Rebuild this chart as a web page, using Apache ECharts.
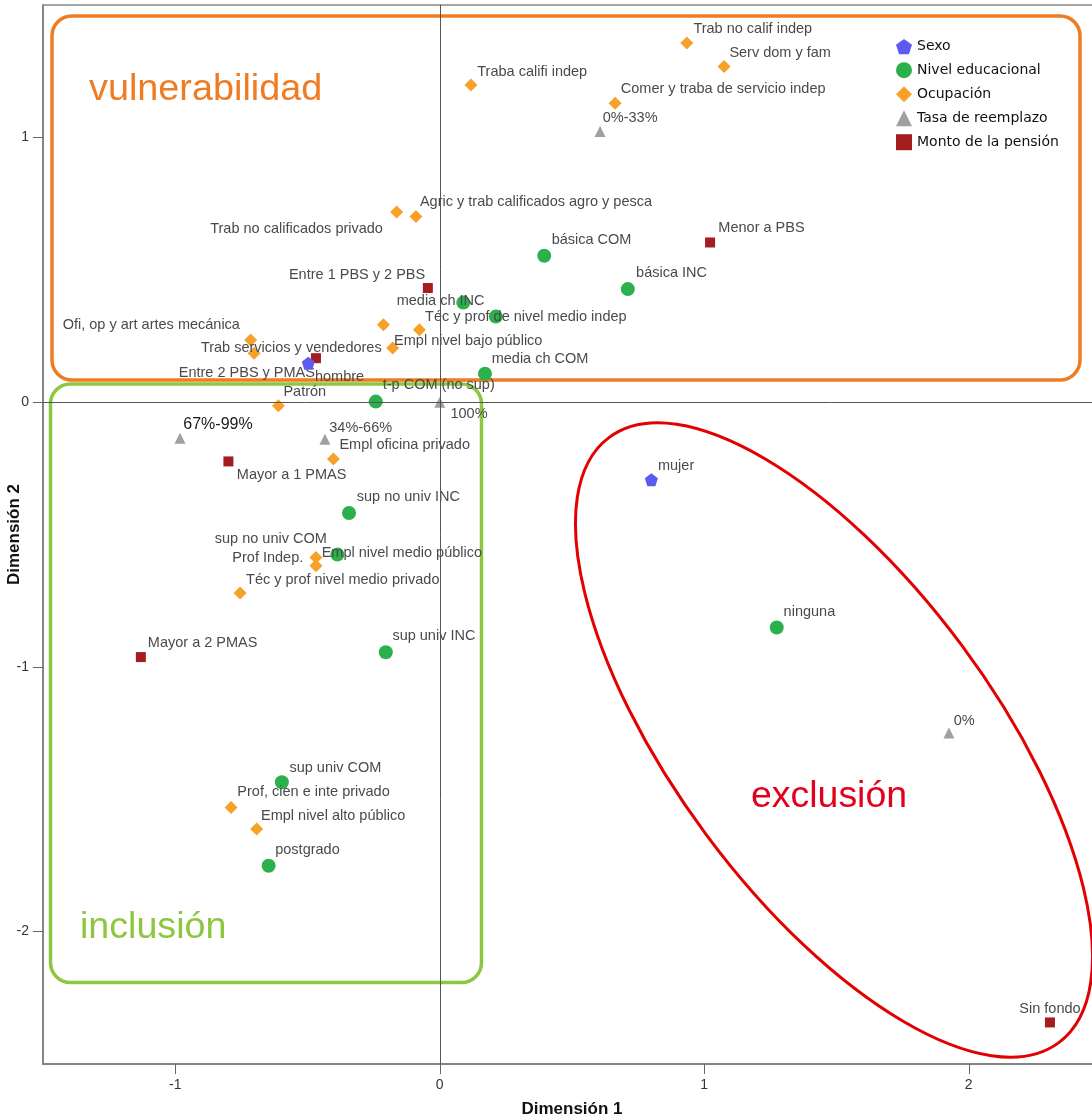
<!DOCTYPE html>
<html><head><meta charset="utf-8">
<script src="https://cdn.jsdelivr.net/npm/echarts@6/dist/echarts.min.js"></script>
<style>html,body{margin:0;padding:0;background:#fff}#c{width:1092px;height:1120px}</style>
</head><body><div id="c"></div>
<script>
// ---------- DATA ----------
const seriesNames = ['Sexo', 'Nivel educacional', 'Ocupación', 'Tasa de reemplazo', 'Monto de la pensión'];

const sexoNames = ['hombre', 'mujer'];
const sexoX = [-0.497, 0.800];
const sexoY = [0.147, -0.293];

const eduNames = ['básica COM', 'básica INC', 'media ch INC', '', 'media ch COM', 't-p COM (no sup)',
  'sup no univ INC', 'sup no univ COM', 'sup univ INC', 'sup univ COM', 'postgrado', 'ninguna'];
const eduX = [0.395, 0.711, 0.089, 0.212, 0.171, -0.242, -0.343, -0.387, -0.204, -0.597, -0.647, 1.274];
const eduY = [0.553, 0.427, 0.376, 0.323, 0.107, 0.002, -0.419, -0.576, -0.945, -1.436, -1.751, -0.851];

const ocuNames = ['Trab no calif indep', 'Serv dom y fam', 'Traba califi indep', 'Comer y traba de servicio indep',
  'Agric y trab calificados agro y pesca', 'Trab no calificados privado', 'Téc y prof de nivel medio indep',
  'Empl nivel bajo público', 'Trab servicios y vendedores', 'Ofi, op y art artes mecánica', '',
  'Patrón', 'Empl oficina privado', 'Prof Indep.', 'Empl nivel medio público', 'Téc y prof nivel medio privado',
  'Prof, cien e inte privado', 'Empl nivel alto público'];
const ocuX = [0.934, 1.075, 0.118, 0.663, -0.090, -0.163, -0.077, -0.213, -0.178, -0.715, -0.702,
  -0.610, -0.402, -0.468, -0.468, -0.755, -0.789, -0.692];
const ocuY = [1.356, 1.268, 1.198, 1.129, 0.701, 0.718, 0.273, 0.292, 0.204, 0.235, 0.185,
  -0.014, -0.215, -0.587, -0.618, -0.721, -1.531, -1.612];

const tasaNames = ['0%-33%', '100%', '67%-99%', '34%-66%', '0%'];
const tasaX = [0.606, 0.0, -0.982, -0.434, 1.925];
const tasaY = [1.022, 0.0, -0.136, -0.140, -1.250];

const montoNames = ['Menor a PBS', 'Entre 1 PBS y 2 PBS', 'Entre 2 PBS y PMAS', 'Mayor a 1 PMAS', 'Mayor a 2 PMAS', 'Sin fondo'];
const montoX = [1.022, -0.045, -0.468, -0.799, -1.130, 2.307];
const montoY = [0.603, 0.431, 0.166, -0.224, -0.963, -2.343];

const xTicks = [-1, 0, 1, 2];
const yTicks = [-2, -1, 0, 1];

const regionNames = ['vulnerabilidad', 'inclusión', 'exclusión'];

// ---------- LABEL PLACEMENT (style: align, dx, dy from marker centre) ----------
const labelPlace = {
  'hombre': ['left', 6.7, 13.4], 'mujer': ['left', 6.6, -14],
  'básica COM': ['left', 7.4, -15.3], 'básica INC': ['left', 8.3, -16], 'media ch INC': ['left', -66.6, -1.7],
  'media ch COM': ['left', 6.7, -14.7], 't-p COM (no sup)': ['left', 7, -16.7], 'sup no univ INC': ['left', 7.7, -16],
  'sup no univ COM': ['right', -10.6, -16], 'sup univ INC': ['left', 6.6, -16], 'sup univ COM': ['left', 7.6, -14.4],
  'postgrado': ['left', 6.6, -15.3], 'ninguna': ['left', 6.9, -15],
  'Trab no calif indep': ['left', 6.6, -14], 'Serv dom y fam': ['left', 5.3, -13.4], 'Traba califi indep': ['left', 6.3, -13.3],
  'Comer y traba de servicio indep': ['left', 5.7, -14], 'Agric y trab calificados agro y pesca': ['left', 4, -14.4],
  'Trab no calificados privado': ['right', -13.7, 16.7], 'Téc y prof de nivel medio indep': ['left', 5.7, -13.3],
  'Empl nivel bajo público': ['left', 10.7, 15.7], 'Trab servicios y vendedores': ['right', -11, -0.6],
  'Ofi, op y art artes mecánica': ['right', -10.7, -15], 'Patrón': ['left', 5, -14.3],
  'Empl oficina privado': ['left', 6, -13.6], 'Prof Indep.': ['right', -12.7, 0.6],
  'Empl nivel medio público': ['left', 5.7, -12.7], 'Téc y prof nivel medio privado': ['left', 6, -12.6],
  'Prof, cien e inte privado': ['left', 6.3, -15], 'Empl nivel alto público': ['left', 4.3, -13.3],
  '0%-33%': ['left', 2.7, -13.4], '100%': ['left', 10.7, 12.3], '67%-99%': ['left', 3.3, -14],
  '34%-66%': ['left', 4.3, -11.6], '0%': ['left', 4.8, -12.3],
  'Menor a PBS': ['left', 8.3, -14.4], 'Entre 1 PBS y 2 PBS': ['right', -2.7, -13], 'Entre 2 PBS y PMAS': ['right', -1, 15],
  'Mayor a 1 PMAS': ['left', 8.4, 13.3], 'Mayor a 2 PMAS': ['left', 7, -14], 'Sin fondo': ['center', 0, -13.7]
};
const labelSpecial = { '67%-99%': { color: '#1a1a1a', fontSize: 16 } };

const FONT = 'Liberation Sans, Arial, sans-serif';
function buildData(names, xs, ys) {
  return names.map(function (n, i) {
    const p = labelPlace[n];
    const lab = p ? Object.assign({
      show: true, formatter: '{b}', position: ['50%', '50%'], align: p[0], verticalAlign: 'middle', offset: [p[1], p[2]],
      color: '#4a4a4a', fontSize: 14.5, fontFamily: FONT, textBorderWidth: 0
    }, labelSpecial[n] || {}) : { show: false };
    return { name: n, value: [xs[i], ys[i]], label: lab };
  });
}

const pentagon = 'path://M50,0 L97.6,34.5 L79.4,90.5 L20.6,90.5 L2.4,34.5 Z';

const chart = echarts.init(document.getElementById('c'), null, { renderer: 'canvas' });
chart.setOption({
  animation: false,
  backgroundColor: '#ffffff',
  grid: { left: 43, top: 5, width: 1058, height: 1059, containLabel: false, outerBoundsMode: 'none',
    show: true, borderColor: '#8a8a8a', borderWidth: 1.5, backgroundColor: 'transparent' },
  xAxis: {
    type: 'value', min: -1.5, max: 2.5, position: 'bottom',
    axisLine: { show: true, onZero: false, lineStyle: { color: '#7a7a7a', width: 1.5 } },
    axisTick: { show: true, length: 10, customValues: xTicks, lineStyle: { color: '#666' } },
    axisLabel: { customValues: xTicks, margin: 14, fontSize: 14, color: '#333', fontFamily: FONT },
    splitLine: { show: false },
    name: 'Dimensión 1', nameLocation: 'middle', nameGap: 37, nameMoveOverlap: false,
    nameTextStyle: { fontSize: 17, fontWeight: 'bold', color: '#111', fontFamily: FONT }
  },
  yAxis: {
    type: 'value', min: -2.5, max: 1.5,
    axisLine: { show: true, onZero: false, lineStyle: { color: '#7a7a7a', width: 1.5 } },
    axisTick: { show: true, length: 10, customValues: yTicks, lineStyle: { color: '#666' } },
    axisLabel: { customValues: yTicks, margin: 14, fontSize: 14, color: '#333', fontFamily: FONT },
    splitLine: { show: false },
    name: 'Dimensión 2', nameLocation: 'middle', nameGap: 20, nameRotate: 90, nameMoveOverlap: false,
    nameTextStyle: { fontSize: 17, fontWeight: 'bold', color: '#111', fontFamily: FONT }
  },
  legend: {
    orient: 'vertical', left: 891, top: 34, itemWidth: 16, itemHeight: 16, itemGap: 8,
    textStyle: { fontSize: 14, color: '#111', fontFamily: 'DejaVu Sans, sans-serif' },
    data: seriesNames
  },
  series: [
    { name: seriesNames[0], type: 'scatter', symbol: pentagon, symbolSize: 13, itemStyle: { color: '#5b5bf2', opacity: 1 },
      data: buildData(sexoNames, sexoX, sexoY), z: 5,
      markLine: { silent: true, symbol: ['none', 'none'], label: { show: false },
        lineStyle: { color: '#555', width: 1, type: 'solid' }, data: [{ xAxis: 0 }, { yAxis: 0 }] } },
    { name: seriesNames[1], type: 'scatter', symbol: 'circle', symbolSize: 14, itemStyle: { color: '#2bb04c', opacity: 1 },
      data: buildData(eduNames, eduX, eduY), z: 4 },
    { name: seriesNames[2], type: 'scatter', symbol: 'diamond', symbolSize: 13, itemStyle: { color: '#f7a02a', opacity: 1 },
      data: buildData(ocuNames, ocuX, ocuY), z: 4 },
    { name: seriesNames[3], type: 'scatter', symbol: 'triangle', symbolSize: 11, itemStyle: { color: '#a0a0a0', opacity: 1 },
      data: buildData(tasaNames, tasaX, tasaY), z: 4 },
    { name: seriesNames[4], type: 'scatter', symbol: 'rect', symbolSize: 10, itemStyle: { color: '#a41d1f', opacity: 1 },
      data: buildData(montoNames, montoX, montoY), z: 4 }
  ],
  graphic: [
    { type: 'rect', z: 3, silent: true, shape: { x: 52, y: 16, width: 1028, height: 364, r: 20 },
      style: { fill: 'none', stroke: '#ef7b22', lineWidth: 3.5 } },
    { type: 'rect', z: 3, silent: true, shape: { x: 50.5, y: 384, width: 431, height: 598.5, r: 20 },
      style: { fill: 'none', stroke: '#8dc63f', lineWidth: 3.5 } },
    { type: 'ellipse', z: 3, silent: true, x: 834, y: 740, rotation: -53.4 * Math.PI / 180,
      shape: { cx: 0, cy: 0, rx: 377, ry: 159 }, style: { fill: 'none', stroke: '#e30000', lineWidth: 3 } },
    { type: 'text', z: 3, silent: true, x: 89, y: 90, scaleX: 1.05,
      style: { text: regionNames[0], fill: '#ef7b22', font: '36px ' + FONT, verticalAlign: 'middle', align: 'left' } },
    { type: 'text', z: 3, silent: true, x: 80, y: 928, scaleX: 1.045,
      style: { text: regionNames[1], fill: '#8dc63f', font: '36px ' + FONT, verticalAlign: 'middle', align: 'left' } },
    { type: 'text', z: 3, silent: true, x: 751, y: 797, scaleX: 1.04,
      style: { text: regionNames[2], fill: '#e3001b', font: '36px ' + FONT, verticalAlign: 'middle', align: 'left' } }
  ]
});
</script></body></html>
